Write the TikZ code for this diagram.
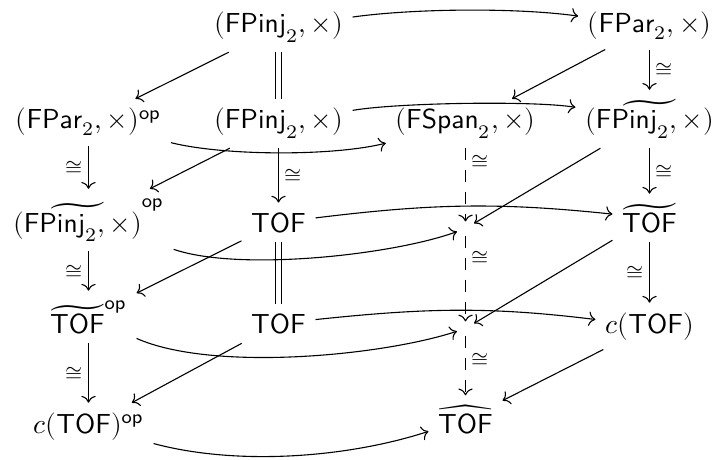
\documentclass[tikz,border=0pt]{standalone}
\usepackage{unicode-math}
\setmathfont{Latin Modern Math}
\usetikzlibrary{arrows.meta}
\begin{document}
\begin{tikzpicture}[x=0.3636pt,y=0.3636pt,
  obj/.style={anchor=base, inner sep=0.3333em},
  hole/.style={inner sep=0pt, minimum width=5.8pt, minimum height=4.7pt},
  ar/.style={-{Computer Modern Rightarrow}, line width=0.4pt},
  eq/.style={double, double distance=1.5pt, line width=0.4pt},
  dsh/.style={ar, dash pattern=on 4.5pt off 3.5pt},
  lab/.style={font=\footnotesize, inner sep=2pt}
]
\useasboundingbox (0,0) rectangle (714,459);
% row 1
\node[obj] (A1) at (278.5,426) {$(\mathsf{FPinj}_2,\times)$};
\node[obj] (B1) at (649.5,426) {$(\mathsf{FPar}_2,\times)$};
% row 2
\node[obj] (A2) at (88.5,330) {$(\mathsf{FPar}_2,\times)^{\mathsf{op}}$};
\node[obj] (B2) at (278.5,330) {$(\mathsf{FPinj}_2,\times)$};
\node[obj] (C2) at (465.5,330) {$(\mathsf{FSpan}_2,\times)$};
\node[obj] (D2) at (649.5,330) {$\widetilde{(\mathsf{FPinj}_2,\times)}$};
% row 3
\node[obj] (A3) at (88.5,227) {$\widetilde{(\mathsf{FPinj}_2,\times)}^{\mathsf{op}}$};
\node[obj] (B3) at (278.5,227) {$\mathsf{TOF}$};
\node[hole] (C3) at (465.5,230.5) {};
\node[obj] (D3) at (649.5,227) {$\widetilde{\mathsf{TOF}}$};
% row 4
\node[obj] (A4) at (88.5,126) {$\widetilde{\mathsf{TOF}}^{\mathsf{op}}$};
\node[obj] (B4) at (278.5,126) {$\mathsf{TOF}$};
\node[hole] (C4) at (465.5,130.5) {};
\node[obj] (D4) at (649.5,126) {$c(\mathsf{TOF})$};
% row 5
\node[obj] (A5) at (88.5,26) {$c(\mathsf{TOF})^{\mathsf{op}}$};
\node[obj] (C5) at (465.5,26) {$\widehat{\mathsf{TOF}}$};

% equalities
\draw[eq] (A1) -- (B2);
\draw[eq] (B3) -- (B4);

% top
\draw[ar] (A1) to[out=8,in=172,looseness=0.7] (B1);
\draw[ar] (A1) -- (A2);
\draw[ar] (B1) -- (C2);
\draw[ar] (B1) -- node[lab,right]{$\cong$} (D2);

% row 2 outgoing
\draw[ar] (A2) -- node[lab,left]{$\cong$} (A3);
\draw[ar] (A2) to[out=-14,in=194,looseness=0.65] (C2);
\draw[ar] (B2) to[out=10,in=171,looseness=0.5] (D2);
\draw[ar] (B2) -- (A3);
\draw[ar] (B2) -- node[lab,right]{$\cong$} (B3);
\draw[dsh] (C2) -- node[lab,right,pos=0.18]{$\cong$} (C3);
\draw[ar] (D2) -- node[lab,right]{$\cong$} (D3);
\draw[ar] (D2) -- (C3);

% row 3 outgoing
\draw[ar] (A3) -- node[lab,left]{$\cong$} (A4);
\draw[ar] (A3) to[out=-19,in=200,looseness=0.62] (C3);
\draw[ar] (B3) to[out=7,in=174] (D3);
\draw[ar] (B3) -- (A4);
\draw[dsh] (C3) -- node[lab,right,pos=0.25]{$\cong$} (C4);
\draw[ar] (D3) -- node[lab,left]{$\cong$} (D4);
\draw[ar] (D3) -- (C4);

% row 4 outgoing
\draw[ar] (A4) -- node[lab,left]{$\cong$} (A5);
\draw[ar] (A4) to[out=-24,in=198,looseness=0.65] (C4);
\draw[ar] (B4) to[out=6,in=173] (D4);
\draw[ar] (B4) -- (A5);
\draw[dsh] (C4) -- node[lab,right,pos=0.4]{$\cong$} (C5);
\draw[ar] (D4) -- (C5);

% row 5
\draw[ar] (A5) to[out=-15,in=198,looseness=0.8] (C5);
\end{tikzpicture}
\end{document}
